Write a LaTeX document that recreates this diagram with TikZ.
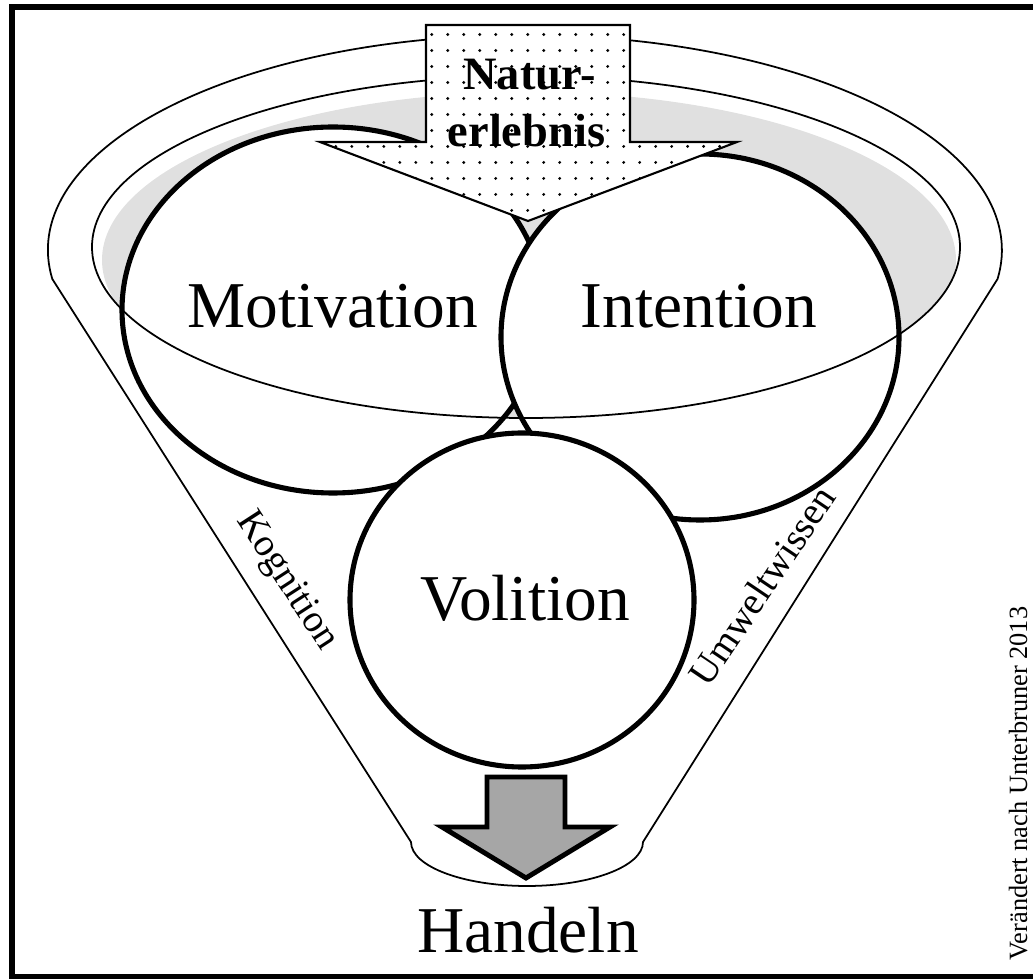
\documentclass[tikz,border=0pt]{standalone}
\usepackage{fontspec}
\setmainfont{Liberation Serif}
\usepackage{tikz}
\usetikzlibrary{shapes,arrows,positioning,patterns}

\pgfdeclarepatternformonly{sparsedots}{\pgfqpoint{-1pt}{-1pt}}{\pgfqpoint{1pt}{1pt}}{\pgfqpoint{4.55pt}{4.55pt}}{%
    \pgfpathcircle{\pgfqpoint{0pt}{0pt}}{0.45pt}\pgfusepath{fill}}

\begin{document}
\begin{tikzpicture}[
    bubble/.style={ellipse, draw, line width=1.45pt, fill=white, inner sep=0pt},
    bigtext/.style={font=\fontsize{18.6}{22}\selectfont, inner sep=0pt, anchor=base},
    sidetext/.style={font=\fontsize{11}{13}\selectfont, inner sep=0pt, anchor=base},
    rim/.style={line width=0.5pt}
]
    \useasboundingbox (0,0) rectangle (10.33,9.78);
    % frame
    \begin{scope}
        \clip (0,0) rectangle (10.33,9.78);
        \draw[line width=1.6pt] (0.12,0.015) rectangle (10.45,9.713);
    \end{scope}

    % funnel
    \coordinate (rimleft) at (0.523,6.99);
    \coordinate (rimright) at (9.977,6.99);
    \coordinate (spoutright) at (6.43,1.36);
    \coordinate (spoutleft) at (4.11,1.36);
    \draw[rim] (rimleft) arc[start angle=187.75, end angle=-7.75, x radius=4.77, y radius=2.15]
        -- (spoutright) arc[start angle=0, end angle=-180, x radius=1.16, y radius=0.44] -- cycle;

    % bowl
    \begin{scope}
        \clip (5.26,7.31) ellipse [x radius=4.34, y radius=1.71];
        \fill[black!12] (5.29,7.18) ellipse [x radius=4.27, y radius=1.68];
    \end{scope}

    \node[bubble, minimum width=4.22cm, minimum height=3.66cm] (motivation) at (3.33,6.68) {};
    \node[bubble, minimum width=3.98cm, minimum height=3.66cm] (intention) at (7.00,6.41) {};
    \node[bubble, minimum width=3.44cm, minimum height=3.34cm] (volition) at (5.22,3.78) {};

    \draw[rim] (5.26,7.31) ellipse [x radius=4.34, y radius=1.71];

    \node[bigtext] (motivationtext) at (3.33,6.50) {Motivation};
    \node[bigtext] (intentiontext) at (6.99,6.50) {Intention};
    \node[bigtext] (volitiontext) at (5.25,3.57) {Volition};

    % Naturerlebnis arrow
    \draw[line width=0.6pt, preaction={fill=white}, pattern=sparsedots]
        (4.26,9.53) -- (6.30,9.53) -- (6.30,8.36) -- (7.37,8.36) -- (5.28,7.57)
        -- (3.20,8.36) -- (4.26,8.36) -- cycle;
    \node[font=\fontsize{13.2}{16}\selectfont\bfseries, inner sep=0pt, anchor=base] (natur) at (5.295,8.88) {Natur-};
    \node[font=\fontsize{13.2}{16}\selectfont\bfseries, inner sep=0pt, anchor=base] (erlebnis) at (5.265,8.31) {erlebnis};

    \node[sidetext, rotate=-57] (kognition) at (2.79,3.92) {Kognition};
    \node[sidetext, rotate=56] (umweltwissen) at (7.73,3.85) {Umweltwissen};

    % Handeln arrow
    \draw[line width=1.4pt, fill=black!35]
        (4.87,2.01) -- (5.65,2.01) -- (5.65,1.51) -- (6.10,1.51) -- (5.26,1.00)
        -- (4.42,1.51) -- (4.87,1.51) -- cycle;
    \node[bigtext] (handeln) at (5.28,0.26) {Handeln};

    \node[font=\fontsize{7.5}{9}\selectfont, inner sep=0pt, anchor=base, rotate=90] (source) at (10.27,1.945) {Verändert nach Unterbruner 2013};
\end{tikzpicture}
\end{document}
